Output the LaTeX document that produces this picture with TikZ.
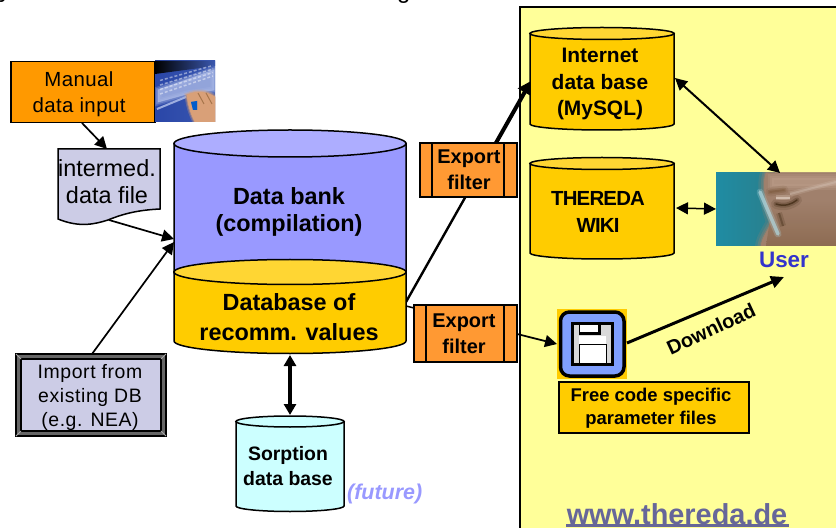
\documentclass[tikz,border=0pt]{standalone}
\usepackage{fontspec}
\setmainfont{Liberation Sans}
\usetikzlibrary{arrows.meta,calc}
\definecolor{bankb}{HTML}{9999FF}
\definecolor{bankt}{HTML}{ADADFF}
\definecolor{gold}{HTML}{FFCC00}
\definecolor{goldt}{HTML}{FFD633}
\definecolor{cyanb}{HTML}{CCFFFF}
\definecolor{lilac}{HTML}{CCCCE6}
\definecolor{panel}{HTML}{FFFF99}
\definecolor{filt}{HTML}{FF9933}
\definecolor{manual}{HTML}{FF9900}
\definecolor{usr}{HTML}{3333CC}
\definecolor{web}{HTML}{666699}
\definecolor{fut}{HTML}{9999FF}
\definecolor{flop}{HTML}{7F9FFF}
\definecolor{tealA}{HTML}{1F8CA3}
\definecolor{tealB}{HTML}{2A7F8C}
\definecolor{faceA}{HTML}{A0806C}
\definecolor{faceB}{HTML}{8C6A50}
\definecolor{faceC}{HTML}{BFA08C}
\definecolor{kbA}{HTML}{3A58B0}
\definecolor{kbB}{HTML}{A9B8E6}
\definecolor{kbC}{HTML}{2A46A8}
\definecolor{hand}{HTML}{D9A078}
\tikzset{
  x=1bp,y=-1bp,
  lbl/.style={align=center,inner sep=0},
  con/.style={draw=black,line width=1.7bp,-{Triangle[length=12bp,width=12bp]}},
  bicon/.style={draw=black,line width=1.7bp,{Triangle[length=12bp,width=12bp]}-{Triangle[length=12bp,width=12bp]}},
  edgeline/.style={draw=black,line width=1.5bp}
}
\newcommand{\fnt}[2]{\fontsize{#1}{#2}\selectfont}
\newcommand{\cyl}[7]{%
  \pgfmathsetmacro{\cx}{(#1+#2)/2}\pgfmathsetmacro{\rx}{(#2-#1)/2}
  \path[fill=#6,edgeline] (#1,#3) -- (#1,#4) arc[start angle=180,end angle=0,x radius=\rx,y radius=#5] -- (#2,#3) -- cycle;
  \path[fill=#7,edgeline] (\cx,#3) ellipse[x radius=\rx,y radius=#5];
}
\newcommand{\filterbox}[6]{%
  \path[fill=filt,edgeline] (#1,#3) rectangle (#2,#4);
  \draw[line width=1.2bp] (#5,#3) -- (#5,#4) (#6,#3) -- (#6,#4);
}
\begin{document}
\begin{tikzpicture}
\useasboundingbox (0,0) rectangle (836,528);
\fill[white] (0,0) rectangle (836,528);
\begin{scope}
\clip (0,0) rectangle (836,6);
\node[anchor=base west,inner sep=0,font=\fnt{24}{24}] (cuty) at (-1,-2) {y};
\node[anchor=base west,inner sep=0,font=\fnt{24}{24}] (cutg) at (397,-1) {g};
\end{scope}
% web panel
\path[fill=panel,draw=black,line width=1.5bp] (520,7) -- (838,7) -- (838,530) -- (520,530) -- cycle;
% manual input
\node[draw=black,line width=1.5bp,fill=manual,minimum width=144bp,minimum height=61bp,inner sep=0,anchor=north west] (manual) at (10,61) {};
\node[lbl,font=\fnt{20.5}{26}\addfontfeature{LetterSpace=2}] (manualt) at (79,94) {Manual\\data input};
% keyboard photo
\begin{scope}
\clip (155,61) rectangle (215,122);
\shade[left color=kbC,right color=kbA] (155,61) rectangle (215,122);
\shade[left color=black,right color=kbA] (155,61) -- (215,61) -- (215,66) -- (155,74) -- cycle;
\foreach \o/\w in {.25/7,.35/4,.6/1}{\fill[kbB,opacity=\o,draw=kbB,line width=\w bp] (158,90) -- (214,70) -- (214,90) -- (187,94) -- (158,102) -- cycle;}
\foreach \i in {0,...,3}{\draw[white,opacity=.45,line width=1.5bp,dash pattern=on 3bp off 2bp] (160,{94-\i*4.5}) -- (213,{76-\i*3.5});}
\draw[kbB,line width=2bp,opacity=.9] (157,109) -- (186,97);
\foreach \o/\w in {.3/5,.5/2.5,1/0.5}{\fill[hand,opacity=\o,draw=hand,line width=\w bp] (187,95) .. controls (197,90) and (208,92) .. (215,97) -- (215,122) -- (195,122) .. controls (190,112) and (188,104) .. (187,95) -- cycle;}
\draw[brown!70!black,line width=1bp,opacity=.6] (198,93) -- (204,104) (206,93) -- (212,104);
\foreach \o/\w in {.4/3,1/1}{\fill[blue!55!cyan!80!black,opacity=\o] (191,102) -- (197,101) -- (197,110) -- (193,110) -- cycle;}
\end{scope}
% intermediate file
\path[fill=lilac,edgeline] (58,149) -- (160,149) -- (160,209) .. controls (140,210) and (125,213) .. (108,220) .. controls (95,224) and (80,228) .. (58,219) -- cycle;
\node[lbl,font=\fnt{23.5}{27}] (filet) at (107,182) {intermed.\\data file};
\coordinate (filen) at (107,149);
\coordinate (files) at (109,220);
% import
\path[fill=black!60,draw=black,line width=1.2bp] (16,354) rectangle (166,436);
\path[fill=lilac,draw=black,line width=1.2bp] (21,359) rectangle (161,431);
\draw[black!35,line width=1bp] (16,354) -- (21,359) (166,354) -- (161,359) (16,436) -- (21,431) (166,436) -- (161,431);
\node[lbl,font=\fnt{19.5}{24}\addfontfeature{LetterSpace=3}] (importt) at (90,397.5) {Import from\\existing DB\\(e.g. NEA)};
% export 1 line behind filter
\coordinate (y1) at (406,302);
\coordinate (in1) at (531,81);
\draw[line width=2.4bp,line cap=round] (y1) -- ($(y1)!0.55!(in1)$);
\draw[line width=4bp,-{Triangle[length=13bp,width=15bp]}] ($(y1)!0.55!(in1)$) -- (in1);
% data bank
\cyl{174}{406}{143.5}{272}{13.5}{bankb}{bankt}
\node[lbl,font=\bfseries\fnt{23.5}{28}] (bankt) at (289,212) {Data bank\\(compilation)};
% recommended
\cyl{174}{406}{272}{341}{12.5}{gold}{goldt}
\node[lbl,font=\bfseries\fnt{23.5}{30}] (recot) at (289,317) {Database of\\recomm. values};
% sorption
\cyl{236}{344}{421.5}{506}{5.5}{cyanb}{cyanb}
\node[lbl,font=\bfseries\fnt{19.5}{25}] (sorpt) at (288,466) {Sorption\\data base};
\node[inner sep=0,anchor=west,text=fut,font=\bfseries\itshape\fnt{21.5}{22}] (future) at (347,494) {(future)};
\coordinate (so) at (290,415);
\coordinate (re) at (290,355);
\draw[line width=3.8bp,{Triangle[length=11bp,width=12bp]}-{Triangle[length=11bp,width=12bp]}] (re) -- (so);
% inputs
\coordinate (bank1) at (174,239);
\coordinate (bank2) at (174,242);
\coordinate (mans) at (82,123);
\draw[con] (mans) -- (filen);
\draw[con] (files) -- (bank1);
\coordinate (imp) at (92,354);
\draw[con] (imp) -- (bank2);
% filters
\filterbox{420}{517}{143}{197}{432}{504}
\node[lbl,font=\bfseries\fnt{20}{26}] (f1) at (469,170) {Export\\filter};
\filterbox{414}{517}{305}{362}{426}{504}
\node[lbl,font=\bfseries\fnt{20}{26}] (f2) at (464,334) {Export\\filter};
\coordinate (y2) at (406,306);
\coordinate (f2w) at (414,308);
\coordinate (f2e) at (517,334);
\coordinate (flopw) at (557,344);
\draw[line width=1.5bp] (y2) -- (f2w);
\draw[con] (f2e) -- (flopw);
% internet
\cyl{530}{674}{33.5}{124}{6}{gold}{goldt}
\node[lbl,font=\bfseries\fnt{21}{27}] (it) at (600,84) {Internet\\data base\\(MySQL)};
% wiki
\cyl{530}{674}{163.5}{253}{6}{gold}{goldt}
\node[lbl,font=\bfseries\fnt{20.5}{27}\addfontfeature{LetterSpace=-4}] (wt) at (598,212) {THEREDA\\WIKI};
% eye photo
\begin{scope}
\clip (716,173) rectangle (836,246);
\shade[left color=tealA,right color=tealB] (716,173) rectangle (775,246);
\foreach \o/\w in {.2/12,.3/7,.4/3,1/0.5}{\fill[faceA,opacity=\o,draw=faceA,line width=\w bp] (766,173) .. controls (762,185) and (766,205) .. (772,222) .. controls (768,230) and (762,238) .. (761,246) -- (836,246) -- (836,173) -- cycle;}
\shade[top color=faceA,bottom color=faceB,opacity=.9] (772,206) -- (836,200) -- (836,246) -- (766,246) -- cycle;
\foreach \o/\w in {.25/8,.3/4}{\fill[faceC,opacity=\o,draw=faceC,line width=\w bp] (772,178) -- (836,178) -- (836,186) -- (772,186) -- cycle;}
\foreach \o/\w in {.12/9,.2/5,.25/2}{\draw[brown!55!black,opacity=\o,line width=\w bp,line cap=round] (770,192) -- (784,190);}
\foreach \o/\w in {.15/10,.3/5,.8/1.5}{\draw[brown!35!black,opacity=\o,line width=\w bp,line cap=round] (776,204) .. controls (785,207) and (792,204) .. (797,200);}
\foreach \o/\w in {.2/5,.5/2}{\draw[white!80!brown,opacity=\o,line width=\w bp] (776,198) -- (790,198);}
\foreach \o/\w in {.2/5,.35/2}{\draw[faceC!60!white,opacity=\o,line width=\w bp] (790,194) -- (836,182);}
\foreach \o/\w in {.25/7,.7/3.5}{\draw[white!65!tealA,opacity=\o,line width=\w bp,line cap=round] (760,192) -- (778,234);}
\foreach \o/\w in {.2/6,.4/2}{\draw[brown!35!black,opacity=\o,line width=\w bp] (779,213) -- (783,226);}
\end{scope}
\coordinate (usrtop) at (780,173);
\coordinate (usrleft) at (716,209);
\node[inner sep=0,text=usr,font=\bfseries\fnt{22.5}{23}] (usert) at (784,260) {User};
\coordinate (idb) at (675,78);
\draw[bicon,line width=2bp] (idb) -- (usrtop);
\coordinate (wik) at (676,208);
\draw[bicon,line width=1.5bp] (wik) -- (usrleft);
% floppy
\node[fill=gold,minimum width=70bp,minimum height=70bp,inner sep=0,anchor=north west] (floppy) at (557,309) {};
\path[fill=flop,draw=black,line width=3.5bp,rounded corners=9bp] (560.5,312) rectangle (624,376);
\path[fill=black] (571,322) rectangle (614,366);
\path[fill=black!15] (574,325) rectangle (611,363);
\path[fill=white] (579,336) rectangle (606,363);
\path[fill=black] (579,325) rectangle (601,335);
\path[fill=white] (580,325) rectangle (598,331.5);
\path[fill=white,draw=black,line width=1bp] (579,344) rectangle (606,363);
\node[draw=black,line width=1.5bp,fill=gold,minimum width=190bp,minimum height=51bp,inner sep=0,anchor=north west] (free) at (558,381) {};
\node[lbl,font=\bfseries\fnt{18.5}{23}] (freet) at (651,408.5) {Free code specific\\parameter files};
\coordinate (flope) at (627,343);
\coordinate (usrbot) at (784,277);
\draw[line width=3bp,-{Triangle[length=13bp,width=12bp]}] (flope) -- (usrbot);
\node[inner sep=0,rotate=25,font=\bfseries\fnt{20}{20}] (dl) at (711,329) {Download};
% website
\node[inner sep=0,text=web,font=\bfseries\fnt{29}{29}] (www) at (677,514) {www.thereda.de};
\coordinate (ula) at (566,525.5);
\coordinate (ulb) at (789,525.5);
\draw[web,line width=2.2bp] (ula) -- (ulb);
\end{tikzpicture}
\end{document}
